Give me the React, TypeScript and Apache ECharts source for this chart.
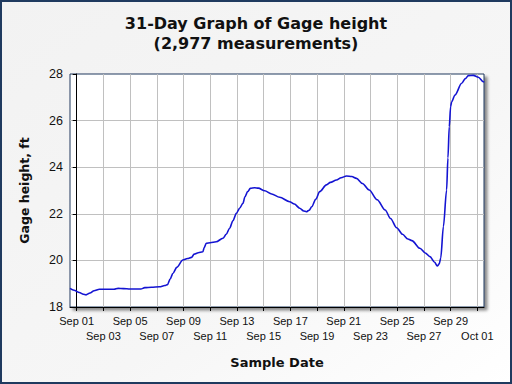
import React, { useEffect, useRef } from "react";
import * as echarts from "echarts";

// Days since Sep 01 00:00
const days = [
  -0.5, -0.2, 0.2, 0.5, 0.7, 1.0, 1.3, 1.7, 2.2, 2.8, 3.1, 3.5, 4.0, 4.8, 5.1, 5.6, 6.2, 6.6, 6.8, 7.0,
  7.2, 7.5, 7.95, 8.3, 8.6, 8.8, 9.1, 9.45, 9.55, 9.7, 10.0, 10.45, 10.95, 11.2, 11.45, 11.7, 11.96,
  12.2, 12.45, 12.6, 12.8, 13.0, 13.33, 13.6, 14.08, 14.6, 15.2, 15.95, 16.3, 16.7, 17.0, 17.2, 17.4,
  17.6, 17.9, 18.2, 18.7, 19.0, 19.45, 19.8, 20.2, 20.6, 20.95, 21.4, 21.9, 22.5, 23.1, 23.5, 23.96,
  24.4, 24.8, 25.1, 25.7, 26.1, 26.45, 26.8, 27.0, 27.15, 27.26, 27.46, 27.7, 27.8, 27.9, 28.0, 28.08,
  28.33, 28.83, 29.1, 29.33, 29.7, 30.08, 30.45, 30.5,
];
const heights = [
  18.8, 18.72, 18.62, 18.55, 18.52, 18.6, 18.7, 18.76, 18.76, 18.76, 18.8, 18.79, 18.77, 18.77, 18.83,
  18.85, 18.87, 18.92, 18.96, 19.2, 19.44, 19.7, 20.02, 20.08, 20.13, 20.27, 20.33, 20.37, 20.55, 20.73,
  20.76, 20.8, 20.95, 21.12, 21.38, 21.7, 22.02, 22.24, 22.45, 22.73, 22.95, 23.09, 23.12, 23.1, 22.99,
  22.85, 22.71, 22.52, 22.42, 22.24, 22.12, 22.09, 22.15, 22.3, 22.62, 22.95, 23.24, 23.35, 23.45,
  23.55, 23.62, 23.6, 23.52, 23.3, 23.02, 22.6, 22.16, 21.8, 21.4, 21.12, 20.92, 20.85, 20.52, 20.32,
  20.16, 19.92, 19.76, 19.85, 20.1, 21.45, 23.02, 24.4, 25.74, 26.6, 26.81, 27.1, 27.6, 27.8, 27.93,
  27.94, 27.86, 27.67, 27.64,
];
const tickDays = [0, 2, 4, 6, 8, 10, 12, 14, 16, 18, 20, 22, 24, 26, 28, 30];
const tickLabels = [
  "Sep 01", "Sep 03", "Sep 05", "Sep 07", "Sep 09", "Sep 11", "Sep 13", "Sep 15",
  "Sep 17", "Sep 19", "Sep 21", "Sep 23", "Sep 25", "Sep 27", "Sep 29", "Oct 01",
];

export default function App() {
  const ref = useRef<HTMLDivElement>(null);
  useEffect(() => {
    document.body.style.margin = "0";
    const chart = echarts.init(ref.current!, null, { renderer: "svg" });
    const navy = "#1f3a5f";
    const gridGray = "#c0c0c0";
    const row1 = tickDays.filter((_, i) => i % 2 === 0);
    const row2 = tickDays.filter((_, i) => i % 2 === 1);
    const fmt = (v: number) => tickLabels[tickDays.indexOf(Math.round(v))] ?? "";
    const labelStyle = {
      fontFamily: "Liberation Sans",
      fontSize: 11,
      color: "#111",
      formatter: fmt,
      showMinLabel: true,
      showMaxLabel: true,
      hideOverlap: false,
    };
    chart.setOption({
      animation: false,
      backgroundColor: {
        type: "linear", x: 0, y: 0, x2: 1, y2: 1,
        colorStops: [
          { offset: 0, color: "#f2f2f2" },
          { offset: 0.6, color: "#f6f6f6" },
          { offset: 1, color: "#ffffff" },
        ],
      },
      graphic: [
        {
          type: "rect",
          shape: { x: 1, y: 1, width: 510, height: 382 },
          style: { fill: "none", stroke: navy, lineWidth: 2 },
          silent: true,
        },
      ],
      title: {
        text: "31-Day Graph of Gage height\n(2,977 measurements)",
        left: "center",
        top: 8,
        textStyle: {
          fontFamily: "DejaVu Sans",
          fontWeight: "bold",
          fontSize: 16,
          lineHeight: 20,
          color: "#111",
        },
      },
      grid: {
        left: 70, right: 28, top: 74, bottom: 77,
        show: true,
        backgroundColor: "#ffffff",
        borderColor: navy,
        borderWidth: 1,
        shadowColor: "rgba(0,0,0,0.45)",
        shadowBlur: 3,
        shadowOffsetX: 3,
        shadowOffsetY: 3,
      },
      xAxis: [
        {
          type: "value",
          min: -0.5,
          max: 30.5,
          name: "Sample Date",
          nameLocation: "middle",
          nameGap: 49,
          nameTextStyle: { fontFamily: "DejaVu Sans", fontWeight: "bold", fontSize: 13, color: "#111" },
          axisLine: { show: true, onZero: false, lineStyle: { color: "#000", width: 1 } },
          axisTick: { show: true, length: 4, customValues: tickDays, lineStyle: { color: "#000" } },
          axisLabel: { ...labelStyle, customValues: row1, margin: 8 },
          splitLine: { show: true, lineStyle: { color: gridGray, width: 1 } },
        },
        {
          type: "value",
          position: "bottom",
          min: -0.5,
          max: 30.5,
          axisLine: { show: false, onZero: false },
          axisTick: { show: false },
          axisLabel: { ...labelStyle, customValues: row2, margin: 23 },
          splitLine: { show: false },
        },
      ],
      yAxis: {
        type: "value",
        min: 18,
        max: 28,
        interval: 2,
        name: "Gage height, ft",
        nameLocation: "middle",
        nameGap: 39,
        nameTextStyle: { fontFamily: "DejaVu Sans", fontWeight: "bold", fontSize: 12.5, color: "#111" },
        axisLine: { show: true, lineStyle: { color: "#000", width: 1 } },
        axisTick: { show: true, length: 4, lineStyle: { color: "#000" } },
        axisLabel: { margin: 7, fontFamily: "Liberation Sans", fontSize: 12.5, color: "#111" },
        splitLine: {
          show: true,
          lineStyle: { color: [gridGray, gridGray, gridGray, gridGray, gridGray, "transparent"], width: 1 },
        },
      },
      series: [
        {
          type: "line",
          xAxisIndex: 0,
          data: days.map((d, i) => [d, heights[i]]),
          showSymbol: false,
          smooth: 0.3,
          smoothMonotone: "x",
          lineStyle: { color: "#1414d2", width: 1.6 },
        },
      ],
    });
    return () => chart.dispose();
  }, []);
  return <div ref={ref} style={{ width: 512, height: 384 }} />;
}
